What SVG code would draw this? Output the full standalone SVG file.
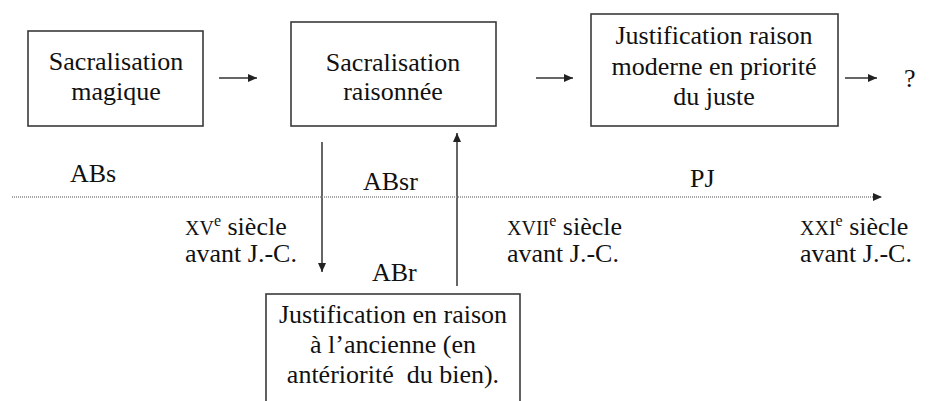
<svg xmlns="http://www.w3.org/2000/svg" width="931" height="401" viewBox="0 0 931 401">
<style>
text{font-family:'Liberation Serif','Times New Roman',serif;font-size:26px;fill:#111}
.c{text-anchor:middle}
.box{fill:#fff;stroke:#3a3a3a;stroke-width:1.6}
.ln{stroke:#333;stroke-width:1.5;fill:none}
.dot{stroke:#888;stroke-width:1.5;stroke-dasharray:1 1;fill:none}
.sc{font-size:20px}
.sup{font-size:16px}
</style>
<defs>
<marker id="ah" markerUnits="userSpaceOnUse" markerWidth="10" markerHeight="8" refX="9" refY="4" orient="auto">
<path d="M0,0 L9,4 L0,8 Z" fill="#222"/>
</marker>
</defs>
<rect width="931" height="401" fill="#fff"/>
<g id="node-sacralisation-magique">
<rect class="box" x="28" y="31" width="175" height="95"/>
<text class="c" x="116" y="70">Sacralisation</text>
<text class="c" x="116" y="100">magique</text>
</g>
<g id="node-sacralisation-raisonnee">
<rect class="box" x="291" y="22" width="205" height="104"/>
<text class="c" x="393" y="71">Sacralisation</text>
<text class="c" x="393" y="100">raisonnée</text>
</g>
<g id="node-justification-moderne">
<rect class="box" x="591" y="14" width="247" height="112"/>
<text class="c" x="714" y="44">Justification raison</text>
<text class="c" x="714" y="75">moderne en priorité</text>
<text class="c" x="714" y="105">du juste</text>
</g>
<g id="node-justification-ancienne">
<rect class="box" x="266" y="294" width="254" height="120"/>
<text class="c" x="393" y="323">Justification en raison</text>
<text class="c" x="393" y="353">à l’ancienne (en</text>
<text class="c" x="393" y="383" xml:space="preserve">antériorité  du bien).</text>
</g>
<g id="node-question">
<text x="904" y="87">?</text>
</g>
<g id="connectors">
<line class="ln" x1="219" y1="78" x2="257" y2="78" marker-end="url(#ah)"/>
<line class="ln" x1="536" y1="78" x2="573" y2="78" marker-end="url(#ah)"/>
<line class="ln" x1="845" y1="78" x2="877" y2="78" marker-end="url(#ah)"/>
<line class="ln" x1="322" y1="142" x2="322" y2="272" marker-end="url(#ah)"/>
<line class="ln" x1="457" y1="286" x2="457" y2="133" marker-end="url(#ah)"/>
<line class="dot" x1="12" y1="197" x2="882" y2="197" marker-end="url(#ah)"/>
</g>
<g id="labels">
<text x="70" y="182">ABs</text>
<text x="363" y="190">ABsr</text>
<text x="690" y="187">PJ</text>
<text x="372" y="281">ABr</text>
<text x="185" y="235"><tspan class="sc">XV</tspan><tspan class="sup" dy="-9">e</tspan><tspan dy="9"> siècle</tspan></text>
<text x="185" y="262">avant J.-C.</text>
<text x="507" y="235"><tspan class="sc">XVII</tspan><tspan class="sup" dy="-9">e</tspan><tspan dy="9"> siècle</tspan></text>
<text x="507" y="262">avant J.-C.</text>
<text x="800" y="235"><tspan class="sc">XXI</tspan><tspan class="sup" dy="-9">e</tspan><tspan dy="9"> siècle</tspan></text>
<text x="800" y="262">avant J.-C.</text>
</g>
</svg>
